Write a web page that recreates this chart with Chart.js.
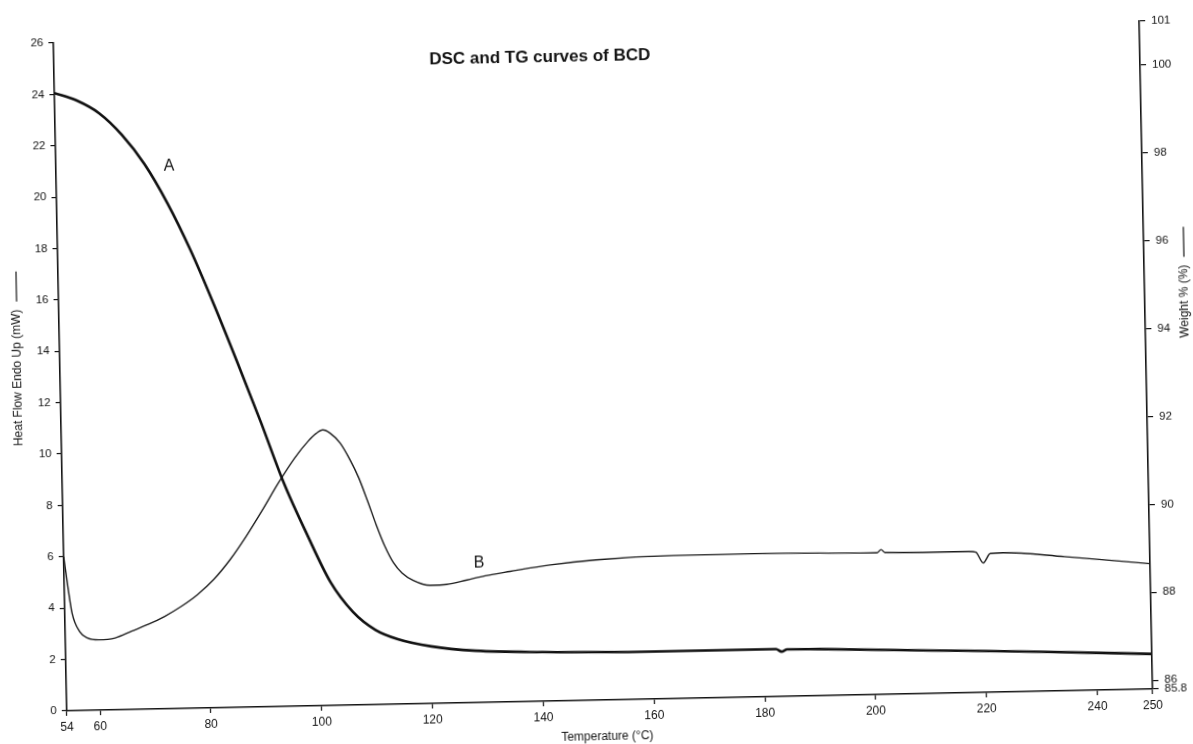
<!DOCTYPE html>
<html>
<head>
<meta charset="utf-8">
<script src="https://cdn.jsdelivr.net/npm/chart.js@4.4.1/dist/chart.umd.min.js"></script>
<style>
  html, body { margin: 0; padding: 0; background: #fff; overflow: hidden; }
  #wrap {
    position: absolute; left: 0; top: 0; width: 1193px; height: 744px;
    /* the plot sheet sits a little askew */
    transform: rotate(-1.15deg);
    transform-origin: 603px 366px;
  }
</style>
</head>
<body>
<div id="wrap"><canvas id="grafico" width="1193" height="744"></canvas></div>
<script>
// TG curve (A) - weight %, right axis
const tgTemp = [54, 58, 62, 66, 70, 74, 78, 82, 86, 90, 94, 98, 102, 106, 110, 114, 120, 128, 140, 160, 180, 182.2, 183.2, 184.2, 190, 210, 230, 250]
const tgWeight = [99.86, 99.68, 99.38, 98.88, 98.2, 97.3, 96.22, 94.98, 93.66, 92.3, 90.88, 89.7, 88.62, 87.92, 87.5, 87.28, 87.1, 86.98, 86.92, 86.88, 86.88, 86.88, 86.82, 86.87, 86.86, 86.78, 86.7, 86.6]

// DSC curve (B) - heat flow, left axis
const dscTemp = [54, 54.65, 55.3, 56.65, 58, 60, 63, 66, 69, 72, 75, 78, 81, 84, 87, 90, 93, 96, 98.5, 100, 101.2, 102.5, 104.3, 106, 107.5, 109, 110.5, 112, 113.5, 115, 117, 120, 123, 126.7, 130, 134.5, 141.7, 150, 164, 180, 200.8, 201.5, 202.2, 217.3, 218.6, 219.9, 221.2, 223.5, 234.6, 250]
const dscHeat = [6.0, 4.81, 3.8, 3.06, 2.82, 2.74, 2.8, 3.05, 3.3, 3.6, 3.97, 4.42, 5.0, 5.75, 6.65, 7.65, 8.7, 9.65, 10.3, 10.6, 10.73, 10.6, 10.2, 9.55, 8.85, 7.95, 7.0, 6.15, 5.5, 5.1, 4.8, 4.6, 4.62, 4.78, 4.93, 5.08, 5.3, 5.46, 5.57, 5.58, 5.52, 5.64, 5.52, 5.5, 5.46, 5.04, 5.4, 5.42, 5.22, 4.88]

// tick labels
const xTicks = [54, 60, 80, 100, 120, 140, 160, 180, 200, 220, 240, 250]
const weightTicks = [85.8, 86, 88, 90, 92, 94, 96, 98, 100, 101]

const fonte = '"Liberation Sans", Arial, sans-serif'
const tinta = '#141414'

let pontos = (xs, ys) => xs.map((x, i) => ({ x: x, y: ys[i] }))

// titles and curve letters
const textos = {
    id: 'textos',
    afterDraw(chart) {
        const ctx = chart.ctx
        const area = chart.chartArea
        const x = chart.scales.x, yl = chart.scales.yHeat
        ctx.save()
        ctx.fillStyle = tinta
        ctx.strokeStyle = tinta
        ctx.textAlign = 'center'
        ctx.textBaseline = 'middle'

        ctx.font = 'bold 17px ' + fonte
        ctx.fillText('DSC and TG curves of BCD', area.left + area.width * 0.4475, area.top + 24)

        ctx.font = '16px ' + fonte
        ctx.fillText('A', x.getPixelForValue(74.4), yl.getPixelForValue(21.1))
        ctx.fillText('B', x.getPixelForValue(128.9), yl.getPixelForValue(5.43))

        ctx.font = '12px ' + fonte
        ctx.fillText('Temperature (°C)', 600, 737)

        // vertical titles, each followed by a short line sample
        const titulo = (texto, cx, cy) => {
            ctx.save()
            ctx.translate(cx, cy)
            ctx.rotate(-Math.PI / 2)
            const w = ctx.measureText(texto).width
            const total = w + 8 + 30
            ctx.textAlign = 'left'
            ctx.fillText(texto, -total / 2, 0)
            ctx.lineWidth = 1.2
            ctx.beginPath()
            ctx.moveTo(-total / 2 + w + 8, 0)
            ctx.lineTo(total / 2, 0)
            ctx.stroke()
            ctx.restore()
        }
        titulo('Heat Flow Endo Up (mW)', 18, 347)
        titulo('Weight % (%)', 1186, 294)

        ctx.restore()
    }
}

const eixo = {
    drawOnChartArea: false,
    color: tinta,
    lineWidth: 1.2,
    tickLength: 5
}

new Chart(document.getElementById('grafico'), {
    type: 'scatter',
    data: {
        datasets: [
            {
                label: 'TG',
                data: pontos(tgTemp, tgWeight),
                yAxisID: 'yWeight',
                showLine: true,
                borderColor: '#111',
                borderWidth: 2.6,
                pointRadius: 0,
                cubicInterpolationMode: 'monotone'
            },
            {
                label: 'DSC',
                data: pontos(dscTemp, dscHeat),
                yAxisID: 'yHeat',
                showLine: true,
                borderColor: '#1c1c1c',
                borderWidth: 1.4,
                pointRadius: 0,
                cubicInterpolationMode: 'monotone'
            }
        ]
    },
    options: {
        responsive: false,
        animation: false,
        layout: { padding: { top: 32, left: 0, right: 0, bottom: 0 } },
        plugins: { legend: { display: false }, tooltip: { enabled: false } },
        scales: {
            x: {
                type: 'linear',
                min: 54,
                max: 250,
                afterBuildTicks: (axis) => { axis.ticks = xTicks.map(v => ({ value: v })) },
                afterFit: (s) => { s.height = 44 },
                grid: eixo,
                border: { color: tinta, width: 1.6 },
                ticks: { color: tinta, font: { family: fonte, size: 12 }, padding: 4, maxRotation: 0, autoSkip: false }
            },
            yHeat: {
                position: 'left',
                min: 0,
                max: 26,
                ticks: { stepSize: 2, color: tinta, font: { family: fonte, size: 11.5 }, padding: 5 },
                afterFit: (s) => { s.width = 60 },
                grid: eixo,
                border: { color: tinta, width: 1.6 }
            },
            yWeight: {
                position: 'right',
                min: 85.8,
                max: 101,
                afterBuildTicks: (axis) => { axis.ticks = weightTicks.map(v => ({ value: v })) },
                afterFit: (s) => { s.width = 47 },
                grid: { drawOnChartArea: false, color: tinta, lineWidth: 1.2, tickLength: 6 },
                border: { color: tinta, width: 1.6 },
                ticks: { color: tinta, font: { family: fonte, size: 11.5 }, padding: 6, autoSkip: false }
            }
        }
    },
    plugins: [textos]
})
</script>
</body>
</html>
